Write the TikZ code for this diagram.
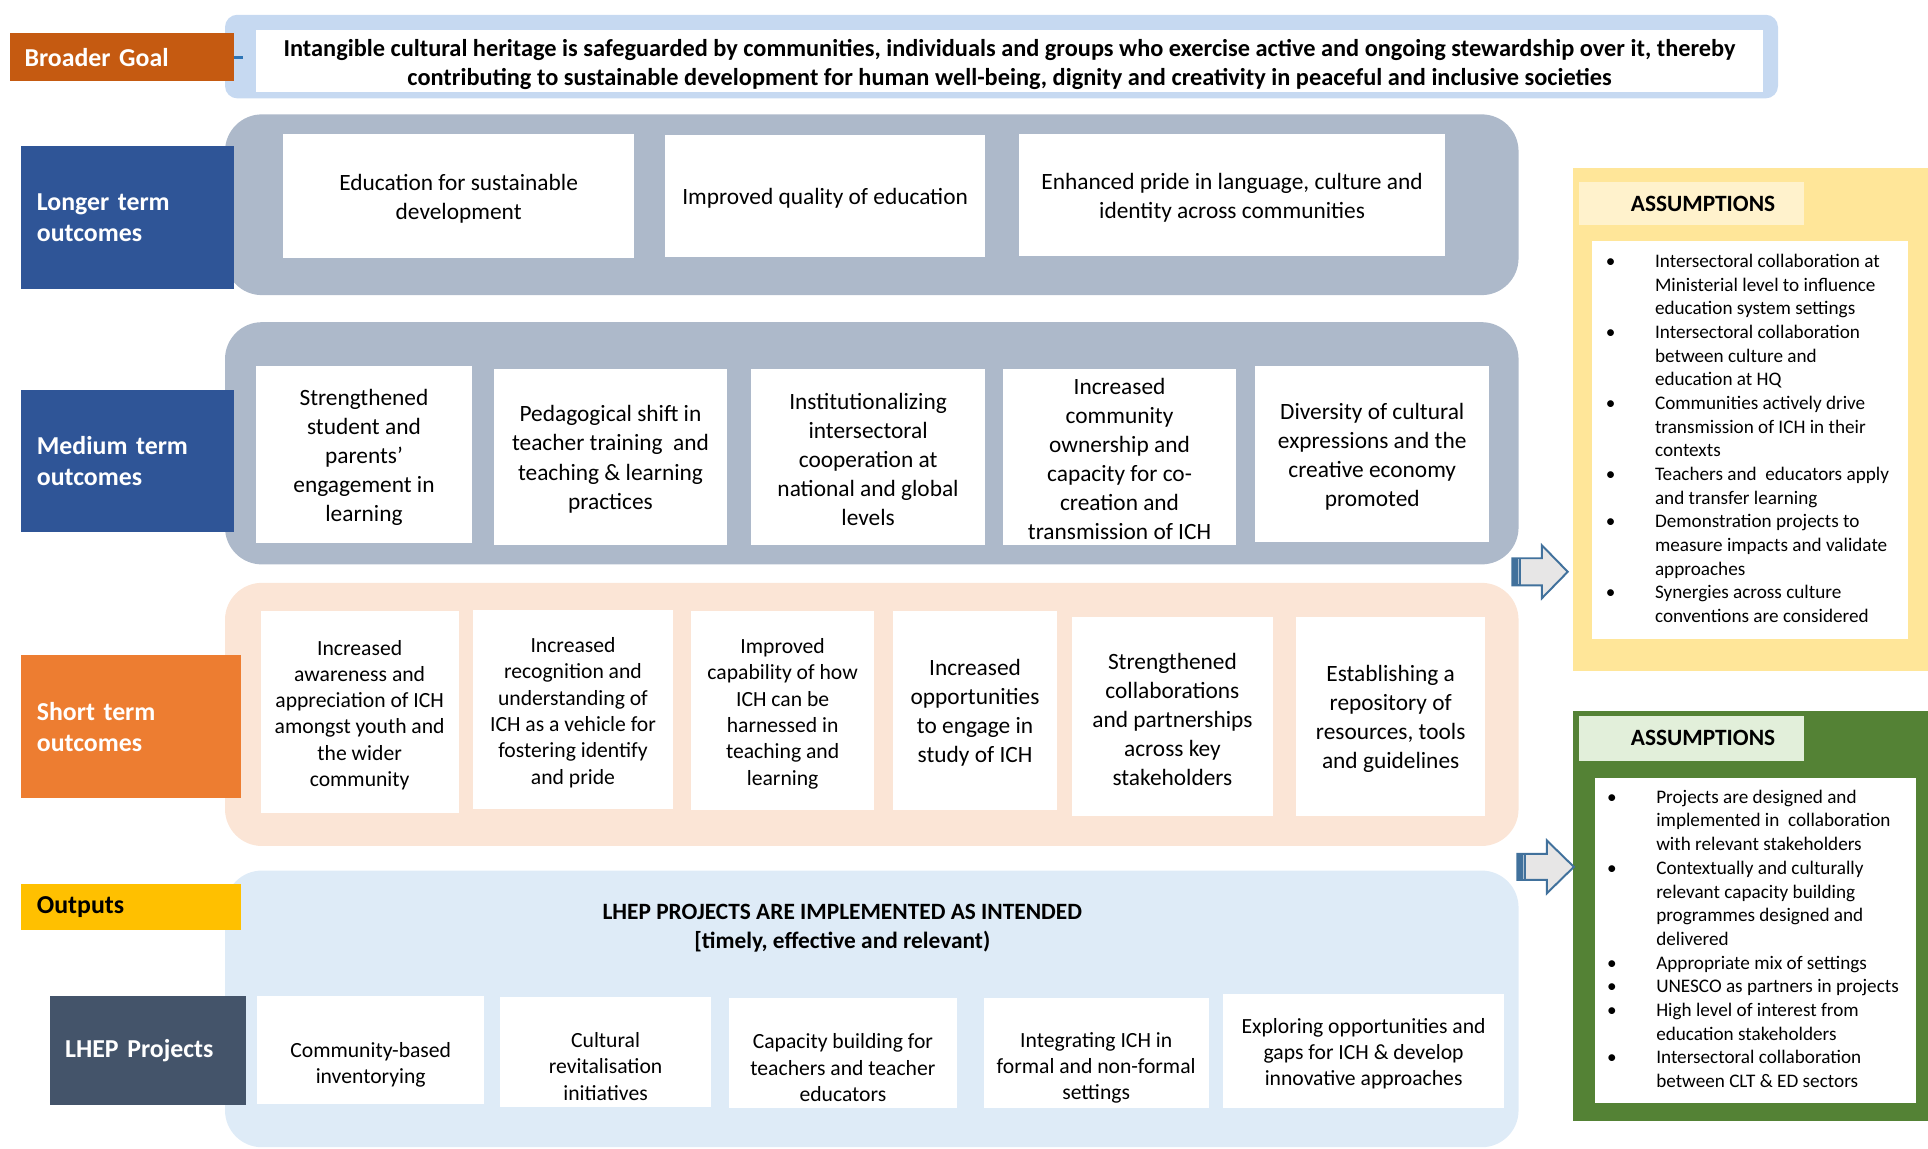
\documentclass[tikz,border=0pt]{standalone}
\usepackage{fontspec}
\setmainfont{Carlito}
\definecolor{goalOrange}{HTML}{C55A11}
\definecolor{darkBlue}{HTML}{2F5597}
\definecolor{stOrange}{HTML}{ED7D31}
\definecolor{outYellow}{HTML}{FFC000}
\definecolor{slate}{HTML}{44546A}
\definecolor{panelGray}{HTML}{ADB9CA}
\definecolor{goalPanel}{HTML}{C6D9F1}
\definecolor{peach}{HTML}{FBE5D6}
\definecolor{outPanel}{HTML}{DEEBF7}
\definecolor{asYellow}{HTML}{FFE699}
\definecolor{asYellowHead}{HTML}{FFF2CC}
\definecolor{asGreen}{HTML}{548235}
\definecolor{asGreenHead}{HTML}{E2EFDA}
\definecolor{arrowBlue}{HTML}{41719C}
\definecolor{arrowFill}{HTML}{E7E6E6}
\definecolor{dashBlue}{HTML}{2E75B6}
\newcommand\bul{\makebox[20pt][l]{\textbullet}}
\newcommand\cnt{\hspace*{20pt}}
\newcommand\aslist[2]{\makebox[#1][l]{\begin{tabular}{@{}l@{}}#2\end{tabular}}}
\newcommand\sh{\rule{0pt}{8.6pt}}
\newcommand\shlow{\rule{0pt}{18pt}}
\begin{document}
\begin{tikzpicture}[x=0.5pt,y=-0.5pt,
  every node/.style={inner sep=0pt,outer sep=0pt},
  R/.style args={#1/#2/#3/#4}{at={({(#1+#3)/2},{(#2+#4)/2})},anchor=center,
     minimum width={(#3-#1)*0.5pt},minimum height={(#4-#2)*0.5pt}},
  panel/.style={rounded corners=15pt},
  box/.style={fill=white,align=center,text=black},
  tbig/.style={font=\fontsize{9.5}{11.8}\selectfont},
  tsmall/.style={font=\fontsize{8.8}{10.7}\selectfont},
  tas/.style={font=\fontsize{7.8}{9.63}\selectfont},
  lab/.style={font=\bfseries\fontsize{10.5}{12.5}\selectfont,align=left},
  ahead/.style={font=\bfseries\fontsize{9.5}{11}\selectfont,align=center},
  barrow/.style={fill=arrowFill,draw=arrowBlue,line width=0.8pt,line join=miter}
]
\useasboundingbox (0,0) rectangle (1568,934);

% ---------------- panels
\node[fill=goalPanel,rounded corners=5pt,R=183/12/1446/80] (gpanel) {};
\node[panel,fill=panelGray,R=183/93/1235/240] (lpanel) {};
\node[panel,fill=panelGray,R=183/262/1235/459] (mpanel) {};
\node[panel,fill=peach,R=183/474/1235/688] (spanel) {};
\node[panel,fill=outPanel,R=183/708/1235/933] (opanel) {};

% ---------------- broader goal
\node[box,font=\bfseries\fontsize{9.9}{12}\selectfont,R=208/24/1434/75] (goal)
  {\rule{0pt}{10pt}Intangible cultural heritage is safeguarded by communities, individuals and groups who exercise active and ongoing stewardship over it, thereby\\
   contributing to sustainable development for human well-being, dignity and creativity in peaceful and inclusive societies};
\node[lab,fill=goalOrange,text=white,text width=79pt,R=8/27/190/66] (bgoal) {Broader Goal};
\coordinate (gpin) at (198,46.5);
\draw[dashBlue,line width=1.2pt] (bgoal.east) -- (gpin);

% ---------------- longer term
\node[lab,fill=darkBlue,text=white,text width=73.5pt,R=17/119/190/235] (llong) {Longer term\\outcomes};
\node[box,tbig,R=230/109/516/210] (l1) {\sh Education for sustainable\\development};
\node[box,tbig,R=541/110/801/209] (l2) {\sh Improved quality of education};
\node[box,tbig,R=829/109/1175/208] (l3) {\sh Enhanced pride in language, culture and\\identity across communities};

% ---------------- medium term
\node[lab,fill=darkBlue,text=white,text width=73.5pt,R=17/317/190/433] (lmed) {Medium term\\outcomes};
\node[box,tbig,R=208/298/384/442] (m1) {\sh Strengthened\\student and\\parents’\\engagement in\\learning};
\node[box,tbig,R=402/300/591/443] (m2) {\sh Pedagogical shift in\\teacher training\ \ and\\teaching \& learning\\practices};
\node[box,tbig,R=611/300/801/443] (m3) {\sh Institutionalizing\\intersectoral\\cooperation at\\national and global\\levels};
\node[box,tbig,R=816/300/1005/443] (m4) {\sh Increased\\community\\ownership and\\capacity for co-\\creation and\\transmission of ICH};
\node[box,tbig,R=1021/298/1211/441] (m5) {\sh Diversity of cultural\\expressions and the\\creative economy\\promoted};

% ---------------- short term
\node[lab,fill=stOrange,text=white,text width=76.5pt,R=17/533/196/649] (lshort) {Short term\\outcomes};
\node[box,tsmall,R=212/497/373/661] (s1) {\sh Increased\\awareness and\\appreciation of ICH\\amongst youth and\\the wider\\community};
\node[box,tsmall,R=385/496/547/658] (s2) {\sh Increased\\recognition and\\understanding of\\ICH as a vehicle for\\fostering identify\\and pride};
\node[box,tsmall,R=562/497/711/659] (s3) {\sh Improved\\capability of how\\ICH can be\\harnessed in\\teaching and\\learning};
\node[box,tbig,R=726/497/860/659] (s4) {\sh Increased\\opportunities\\to engage in\\study of ICH};
\node[box,tbig,R=872/502/1035/664] (s5) {\sh Strengthened\\collaborations\\and partnerships\\across key\\stakeholders};
\node[box,tbig,R=1054/502/1208/664] (s6) {\sh Establishing a\\repository of\\resources, tools\\and guidelines};

% ---------------- outputs
\node[lab,fill=outYellow,text=black,text width=76.5pt,R=17/719/196/756] (lout) {Outputs};
\node[font=\bfseries\fontsize{9.5}{12}\selectfont,align=center] (otitle) at (685,755)
  {LHEP PROJECTS ARE IMPLEMENTED AS INTENDED\\{[}timely, effective and relevant)};
\node[lab,fill=slate,text=white,text width=67.5pt,R=41/810/200/899] (llhep) {LHEP Projects};
\node[box,tsmall,R=209/810/394/898] (p1) {\shlow Community-based\\inventorying};
\node[box,tsmall,R=407/811/578/900] (p2) {\shlow Cultural\\revitalisation\\initiatives};
\node[box,tsmall,R=593/812/778/901] (p3) {\shlow Capacity building for\\teachers and teacher\\educators};
\node[box,tsmall,R=800/812/983/901] (p4) {\shlow Integrating ICH in\\formal and non-formal\\settings};
\node[box,tsmall,R=995/808/1223/901] (p5) {\sh Exploring opportunities and\\gaps for ICH \& develop\\innovative approaches};

% ---------------- assumptions (yellow)
\node[fill=asYellow,R=1279/137/1568/546] (as1) {};
\node[ahead,fill=asYellowHead,R=1284/148/1467/183] (as1h) {\hspace*{9.5pt}ASSUMPTIONS};
\node[fill=white,tas,R=1295/196/1552/520] (as1b)
  {\aslist{117.5pt}{\bul Intersectoral collaboration at\\\cnt Ministerial level to influence\\\cnt education system settings\\
   \bul Intersectoral collaboration\\\cnt between culture and\\\cnt education at HQ\\
   \bul Communities actively drive\\\cnt transmission of ICH in their\\\cnt contexts\\
   \bul Teachers and\ \ educators apply\\\cnt and transfer learning\\
   \bul Demonstration projects to\\\cnt measure impacts and validate\\\cnt approaches\\
   \bul Synergies across culture\\\cnt conventions are considered}};

% ---------------- assumptions (green)
\node[fill=asGreen,R=1279/578/1568/912] (as2) {};
\node[ahead,fill=asGreenHead,R=1284/582/1467/619] (as2h) {\hspace*{9.5pt}ASSUMPTIONS};
\node[fill=white,tas,R=1297/633/1558/897] (as2b)
  {\aslist{120.5pt}{\bul Projects are designed and\\\cnt implemented in\ \ collaboration\\\cnt with relevant stakeholders\\
   \bul Contextually and culturally\\\cnt relevant capacity building\\\cnt programmes designed and\\\cnt delivered\\
   \bul Appropriate mix of settings\\
   \bul UNESCO as partners in projects\\
   \bul High level of interest from\\\cnt education stakeholders\\
   \bul Intersectoral collaboration\\\cnt between CLT \& ED sectors}};

% ---------------- block arrows
\begin{scope}[shift={(1230,465)}]
  \draw[barrow] (0,-11) -- (24,-11) -- (24,-21.5) -- (45,0) -- (24,21.5) -- (24,11) -- (0,11) -- cycle;
  \fill[arrowBlue] (0,-11) rectangle (7,11);
  \fill[arrowBlue!45] (4.5,-10) rectangle (5.5,10);
\end{scope}
\begin{scope}[shift={(1234,705)}]
  \draw[barrow] (0,-10.5) -- (24,-10.5) -- (24,-21.5) -- (46,0) -- (24,21.5) -- (24,10.5) -- (0,10.5) -- cycle;
  \fill[arrowBlue] (0,-10.5) rectangle (7,10.5);
  \fill[arrowBlue!45] (4.5,-9.5) rectangle (5.5,9.5);
\end{scope}
\end{tikzpicture}
\end{document}
